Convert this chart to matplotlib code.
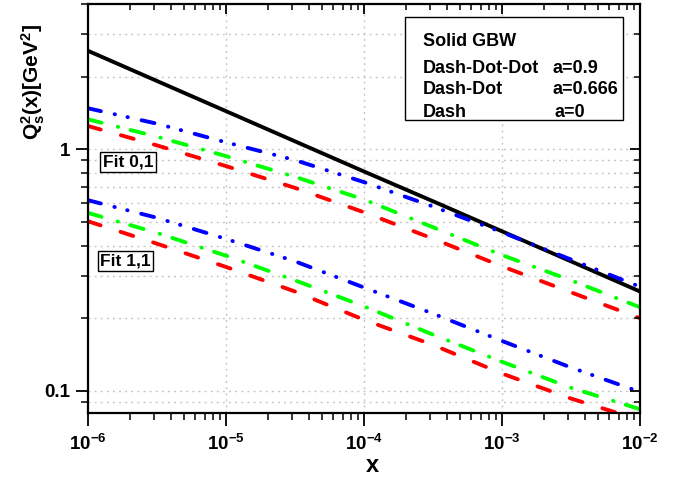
import math
import matplotlib
matplotlib.use("Agg")
import matplotlib.pyplot as plt
from matplotlib import ticker
from matplotlib.patches import Rectangle

plt.rcParams["font.family"] = ["Liberation Sans", "DejaVu Sans"]
plt.rcParams["font.weight"] = "bold"
plt.rcParams["mathtext.fontset"] = "custom"
plt.rcParams["mathtext.rm"] = "Liberation Sans:bold"
plt.rcParams["mathtext.it"] = "Liberation Sans:bold"
plt.rcParams["mathtext.bf"] = "Liberation Sans:bold"
plt.rcParams["axes.grid"] = False

# saturation scale Q_s^2(x) at half-decade steps in x
x = [1e-6, 3.16e-6, 1e-5, 3.16e-5, 1e-4, 3.16e-4, 1e-3, 3.16e-3, 1e-2]
gbw = [2.56, 1.92, 1.44, 1.08, 0.81, 0.61, 0.458, 0.344, 0.258]

fit01_a09 = [1.48, 1.278, 1.07, 0.903, 0.732, 0.580, 0.454, 0.350, 0.270]
fit01_a0666 = [1.332, 1.129, 0.938, 0.770, 0.620, 0.476, 0.365, 0.287, 0.222]
fit01_a0 = [1.25, 1.039, 0.853, 0.693, 0.549, 0.427, 0.328, 0.256, 0.200]

fit11_a09 = [0.616, 0.521, 0.426, 0.344, 0.268, 0.209, 0.161, 0.125, 0.099]
fit11_a0666 = [0.546, 0.451, 0.363, 0.287, 0.224, 0.171, 0.132, 0.103, 0.084]
fit11_a0 = [0.504, 0.407, 0.326, 0.258, 0.197, 0.155, 0.118, 0.093, 0.0758]

legend_left = ["Solid GBW", "Dash-Dot-Dot", "Dash-Dot", "Dash"]
legend_right = ["", "a=0.9", "a=0.666", "a=0"]

LW = 2.8
dash = (0, (3.4, 5.4))
dash_dot = (0, (3.6, 4.3, 0.1, 3.3))
dash_dot_dot = (0, (3.4, 3.6, 0.1, 3.3, 0.1, 3.6))
grid_kw = dict(color="#c4c4c4", linestyle=(0, (1.4, 3.0)), lw=1.0, zorder=0.5)

fig = plt.figure(figsize=(6.82, 4.79), dpi=100)
ax = fig.add_axes([88 / 682, 66 / 479, 552 / 682, 409 / 479])

ax.plot(x, gbw, color="black", lw=LW, solid_capstyle="butt")
for ys, style, color in [
    (fit01_a09, dash_dot_dot, "#0000ff"),
    (fit01_a0666, dash_dot, "#00ff00"),
    (fit01_a0, dash, "#ff0000"),
    (fit11_a09, dash_dot_dot, "#0000ff"),
    (fit11_a0666, dash_dot, "#00ff00"),
    (fit11_a0, dash, "#ff0000"),
]:
    ax.plot(x, ys, color=color, lw=LW, linestyle=style, dash_capstyle="round")

ax.set_xscale("log")
ax.set_yscale("log")
ax.set_xlim(1e-6, 1e-2)
ax.set_ylim(0.081, 4.0)

ax.xaxis.set_major_locator(ticker.LogLocator(base=10, numticks=10))
ax.xaxis.set_minor_locator(ticker.LogLocator(base=10, subs=range(2, 10), numticks=50))
ax.xaxis.set_major_formatter(
    ticker.FuncFormatter(lambda v, p: r"$\mathbf{10^{%d}}$" % round(math.log10(v)))
)
ax.xaxis.set_minor_formatter(ticker.NullFormatter())
ax.yaxis.set_major_locator(ticker.FixedLocator([0.1, 1]))
ax.yaxis.set_minor_locator(ticker.LogLocator(base=10, subs=range(2, 10), numticks=50))
ax.yaxis.set_major_formatter(ticker.FuncFormatter(lambda v, p: f"{v:g}"))
ax.yaxis.set_minor_formatter(ticker.NullFormatter())

for s in ax.spines.values():
    s.set_linewidth(1.6)
ax.tick_params(which="major", direction="out", length=9, width=1.3, labelsize=13.5)
ax.tick_params(which="minor", direction="out", length=5, width=1.1)
ax.tick_params(axis="x", which="major", pad=6)
ax.tick_params(axis="y", which="major", pad=4)

# dotted grid: decades only along x, every log tick along y
for v in ax.get_xticks():
    if 1e-6 < v < 1e-2:
        ax.axvline(v, **grid_kw)
y_lo, y_hi = ax.get_ylim()
for v in list(ax.yaxis.get_majorticklocs()) + list(ax.yaxis.get_minorticklocs()):
    if y_lo < v < y_hi:
        ax.axhline(v, **grid_kw)

# mirrored inward ticks on top and right
ax2 = fig.add_axes(ax.get_position(), frameon=False, sharex=ax, sharey=ax)
ax2.tick_params(which="both", direction="in", left=False, bottom=False, top=True, right=True,
                labelleft=False, labelbottom=False)
ax2.tick_params(which="major", length=7, width=1.3)
ax2.tick_params(which="minor", length=4, width=1.1)

ax.set_xlabel("x", fontsize=17, fontweight="bold")
ax.xaxis.set_label_coords(0.516, -0.10)
ax.set_ylabel(r"$\mathbf{Q_s^{2}(x)[GeV^{2}]}$", fontsize=15)
ax.yaxis.set_label_coords(-0.075, 0.81)

# legend box
ax.add_patch(Rectangle((0.574, 0.716), 0.395, 0.252, transform=ax.transAxes,
                       facecolor="white", edgecolor="black", lw=1.0, zorder=5))
rows_y = [0.897, 0.831, 0.780, 0.723]
right_x = [0.0, 0.842, 0.841, 0.846]
for ty, lt, rt, rx in zip(rows_y, legend_left, legend_right, right_x):
    ax.text(0.607, ty, lt, transform=ax.transAxes, fontsize=13, fontweight="bold",
            va="baseline", ha="left", zorder=6)
    if rt:
        ax.text(rx, ty, rt, transform=ax.transAxes, fontsize=13, fontweight="bold",
                va="baseline", ha="left", zorder=6)

box = dict(boxstyle="square,pad=0.15", facecolor="white", edgecolor="black", lw=1.0)
ax.text(0.0725, 0.614, "Fit 0,1", transform=ax.transAxes, fontsize=12.5, fontweight="bold",
        ha="center", va="center", bbox=box, zorder=6)
ax.text(0.068, 0.372, "Fit 1,1", transform=ax.transAxes, fontsize=12.5, fontweight="bold",
        ha="center", va="center", bbox=box, zorder=6)

fig.savefig("out.png", dpi=100)
